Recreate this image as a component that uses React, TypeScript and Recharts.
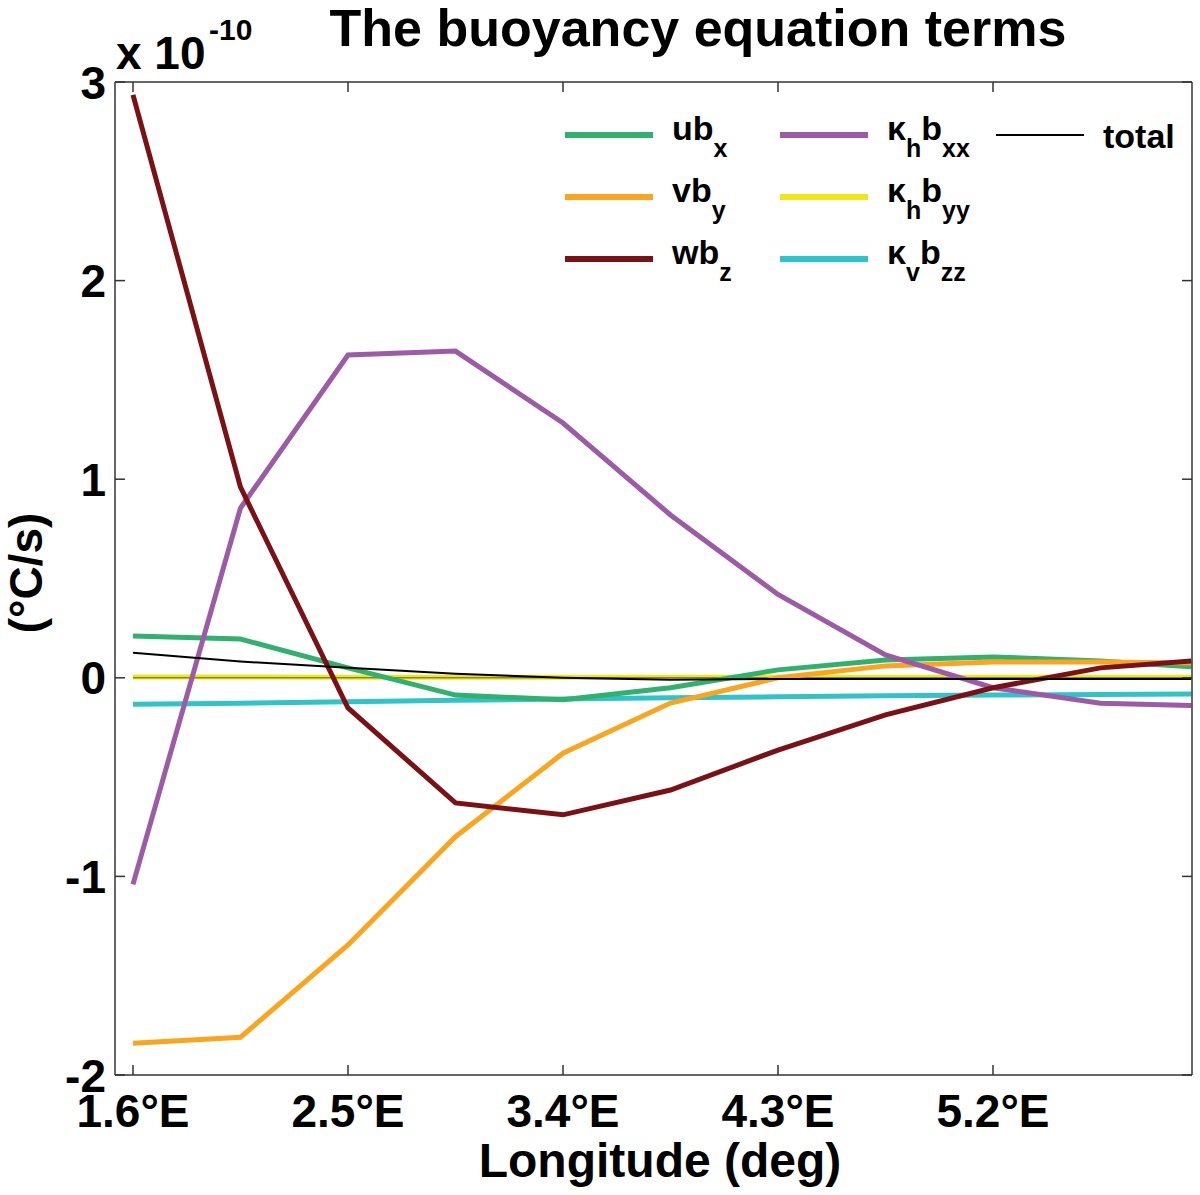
import React from 'react';
import { LineChart, Line, XAxis, YAxis, ReferenceLine } from 'recharts';

const lon = [1.6, 2.05, 2.5, 2.95, 3.4, 3.85, 4.3, 4.75, 5.2, 5.65, 6.03];
const ubx = [0.21, 0.195, 0.05, -0.087, -0.11, -0.05, 0.04, 0.09, 0.105, 0.085, 0.055];
const vby = [-1.84, -1.81, -1.345, -0.8, -0.38, -0.127, 0.0, 0.06, 0.08, 0.08, 0.075];
const wbz = [2.935, 0.96, -0.152, -0.63, -0.69, -0.565, -0.364, -0.187, -0.05, 0.05, 0.085];
const khbxx = [-1.04, 0.855, 1.625, 1.645, 1.283, 0.82, 0.42, 0.115, -0.05, -0.128, -0.14];
const khbyy = [0.004, 0.004, 0.003, 0.003, 0.003, 0.003, 0.003, 0.003, 0.003, 0.003, 0.003];
const kvbzz = [-0.133, -0.128, -0.12, -0.113, -0.107, -0.101, -0.096, -0.091, -0.087, -0.084, -0.082];
const total = [0.126, 0.082, 0.05, 0.02, 0.0, -0.01, -0.006, -0.006, -0.006, -0.006, -0.006];

const xTicks = [1.6, 2.5, 3.4, 4.3, 5.2];
const xTickLabels = ['1.6°E', '2.5°E', '3.4°E', '4.3°E', '5.2°E'];
const yTicks = [-2, -1, 0, 1, 2, 3];
const yTickLabels = ['-2', '-1', '0', '1', '2', '3'];

const data = lon.map((x, i) => ({
  lon: x,
  ubx: ubx[i],
  vby: vby[i],
  wbz: wbz[i],
  khbxx: khbxx[i],
  khbyy: khbyy[i],
  kvbzz: kvbzz[i],
  total: total[i],
}));

const FF = '"Liberation Sans", Arial, Helvetica, sans-serif';
const AX = '#333';

const C = {
  ubx: '#30b16d',
  vby: '#fba51f',
  wbz: '#7b1115',
  khbxx: '#9c5aa7',
  khbyy: '#f0e816',
  kvbzz: '#2fc3ca',
  total: '#000000',
};

const BottomTick = (props: any) => {
  const { x, y, payload } = props;
  const idx = xTicks.indexOf(payload.value);
  return (
    <g>
      <line x1={x} y1={y} x2={x} y2={y - 10} stroke={AX} strokeWidth={1.5} />
      <text x={x} y={y + 52} textAnchor="middle" fontSize={46} fontWeight="bold" fontFamily={FF} fill="#000">
        {idx >= 0 ? xTickLabels[idx] : ''}
      </text>
    </g>
  );
};

const TopTick = (props: any) => {
  const { x, y } = props;
  return <line x1={x} y1={y} x2={x} y2={y + 10} stroke={AX} strokeWidth={1.5} />;
};

const LeftTick = (props: any) => {
  const { x, y, payload } = props;
  const idx = yTicks.indexOf(payload.value);
  return (
    <g>
      <line x1={x} y1={y} x2={x + 10} y2={y} stroke={AX} strokeWidth={1.5} />
      <text x={x - 9} y={y + 16.5} textAnchor="end" fontSize={46} fontWeight="bold" fontFamily={FF} fill="#000">
        {idx >= 0 ? yTickLabels[idx] : ''}
      </text>
    </g>
  );
};

const RightTick = (props: any) => {
  const { x, y } = props;
  return <line x1={x} y1={y} x2={x - 10} y2={y} stroke={AX} strokeWidth={1.5} />;
};

type Entry = { color: string; width: number; parts: { t: string; sub?: boolean }[] };

const legendCols: Entry[][] = [
  [
    { color: C.ubx, width: 6, parts: [{ t: 'ub' }, { t: 'x', sub: true }] },
    { color: C.vby, width: 6, parts: [{ t: 'vb' }, { t: 'y', sub: true }] },
    { color: C.wbz, width: 6, parts: [{ t: 'wb' }, { t: 'z', sub: true }] },
  ],
  [
    { color: C.khbxx, width: 6, parts: [{ t: 'κ' }, { t: 'h', sub: true }, { t: 'b' }, { t: 'xx', sub: true }] },
    { color: C.khbyy, width: 6, parts: [{ t: 'κ' }, { t: 'h', sub: true }, { t: 'b' }, { t: 'yy', sub: true }] },
    { color: C.kvbzz, width: 6, parts: [{ t: 'κ' }, { t: 'v', sub: true }, { t: 'b' }, { t: 'zz', sub: true }] },
  ],
  [{ color: C.total, width: 2, parts: [{ t: 'total' }] }],
];
const legendColX = [565, 780, 996];
const legendRowY = [135, 197, 259];

const Overlay = () => (
  <svg width={1200} height={1195} style={{ position: 'absolute', left: 0, top: 0, pointerEvents: 'none' }}>
    <text x={698} y={46} textAnchor="middle" fontSize={52} fontWeight="bold" fontFamily={FF} fill="#000">
      The buoyancy equation terms
    </text>
    <text x={116} y={69} fontSize={46} fontWeight="bold" fontFamily={FF} fill="#000">x 10</text>
    <text x={209} y={40} fontSize={30} fontWeight="bold" fontFamily={FF} fill="#000">-10</text>
    <text x={660} y={1177} textAnchor="middle" fontSize={48} fontWeight="bold" fontFamily={FF} fill="#000">
      Longitude (deg)
    </text>
    <text
      transform="translate(42,573) rotate(-90)"
      textAnchor="middle"
      fontSize={46}
      fontWeight="bold"
      fontFamily={FF}
      fill="#000"
    >
      (°C/s)
    </text>
    {legendCols.map((col, ci) =>
      col.map((e, ri) => {
        const lx = legendColX[ci];
        const ly = legendRowY[ri];
        const hasSub = e.parts.some((p) => p.sub);
        const baseY = hasSub ? ly + 5 : ly + 13;
        let cur = 0;
        return (
          <g key={`${ci}-${ri}`}>
            <line x1={lx} y1={ly} x2={lx + 88} y2={ly} stroke={e.color} strokeWidth={e.width} />
            <text x={lx + 107} y={baseY} fontSize={34} fontWeight="bold" fontFamily={FF} fill="#000">
              {e.parts.map((p, pi) => {
                const target = p.sub ? 17 : 0;
                const dy = target - cur;
                cur = target;
                return (
                  <tspan key={pi} dy={dy} fontSize={p.sub ? 25 : 34}>
                    {p.t}
                  </tspan>
                );
              })}
            </text>
          </g>
        );
      })
    )}
  </svg>
);

export default function App() {
  return (
    <div style={{ position: 'absolute', left: 0, top: 0, width: 1200, height: 1195, background: '#fff' }}>
      <LineChart width={1200} height={1195} data={data} margin={{ top: 81, right: 7, bottom: 0, left: 0 }}>
        <XAxis
          dataKey="lon"
          type="number"
          domain={[1.5247, 6.033]}
          allowDataOverflow
          ticks={xTicks}
          interval={0}
          height={120}
          tickSize={0}
          tickMargin={0}
          tick={<BottomTick />}
          axisLine={{ stroke: AX, strokeWidth: 1.5 }}
          tickLine={false}
        />
        <XAxis
          xAxisId="top"
          orientation="top"
          dataKey="lon"
          type="number"
          domain={[1.5247, 6.033]}
          allowDataOverflow
          ticks={xTicks}
          interval={0}
          height={1}
          tickSize={0}
          tickMargin={0}
          tick={<TopTick />}
          axisLine={{ stroke: AX, strokeWidth: 1.5 }}
          tickLine={false}
        />
        <YAxis
          type="number"
          domain={[-2, 3]}
          allowDataOverflow
          ticks={yTicks}
          interval={0}
          width={115}
          tickSize={0}
          tickMargin={0}
          tick={<LeftTick />}
          axisLine={{ stroke: AX, strokeWidth: 1.5 }}
          tickLine={false}
        />
        <YAxis
          yAxisId="right"
          orientation="right"
          type="number"
          domain={[-2, 3]}
          allowDataOverflow
          ticks={yTicks}
          interval={0}
          width={1}
          tickSize={0}
          tickMargin={0}
          tick={<RightTick />}
          axisLine={{ stroke: AX, strokeWidth: 1.5 }}
          tickLine={false}
        />
        <Line dataKey="khbyy" stroke={C.khbyy} strokeWidth={5} dot={false} activeDot={false} isAnimationActive={false} />
        <ReferenceLine
          segment={[{ x: 1.6, y: 0 }, { x: 6.03, y: 0 }]}
          stroke="#555"
          strokeWidth={1}
        />
        <Line dataKey="kvbzz" stroke={C.kvbzz} strokeWidth={5} dot={false} activeDot={false} isAnimationActive={false} />
        <Line dataKey="ubx" stroke={C.ubx} strokeWidth={5} dot={false} activeDot={false} isAnimationActive={false} />
        <Line dataKey="vby" stroke={C.vby} strokeWidth={5} dot={false} activeDot={false} isAnimationActive={false} />
        <Line dataKey="khbxx" stroke={C.khbxx} strokeWidth={5} dot={false} activeDot={false} isAnimationActive={false} />
        <Line dataKey="wbz" stroke={C.wbz} strokeWidth={5} dot={false} activeDot={false} isAnimationActive={false} />
        <Line dataKey="total" stroke={C.total} strokeWidth={2} dot={false} activeDot={false} isAnimationActive={false} />
      </LineChart>
      <Overlay />
    </div>
  );
}
